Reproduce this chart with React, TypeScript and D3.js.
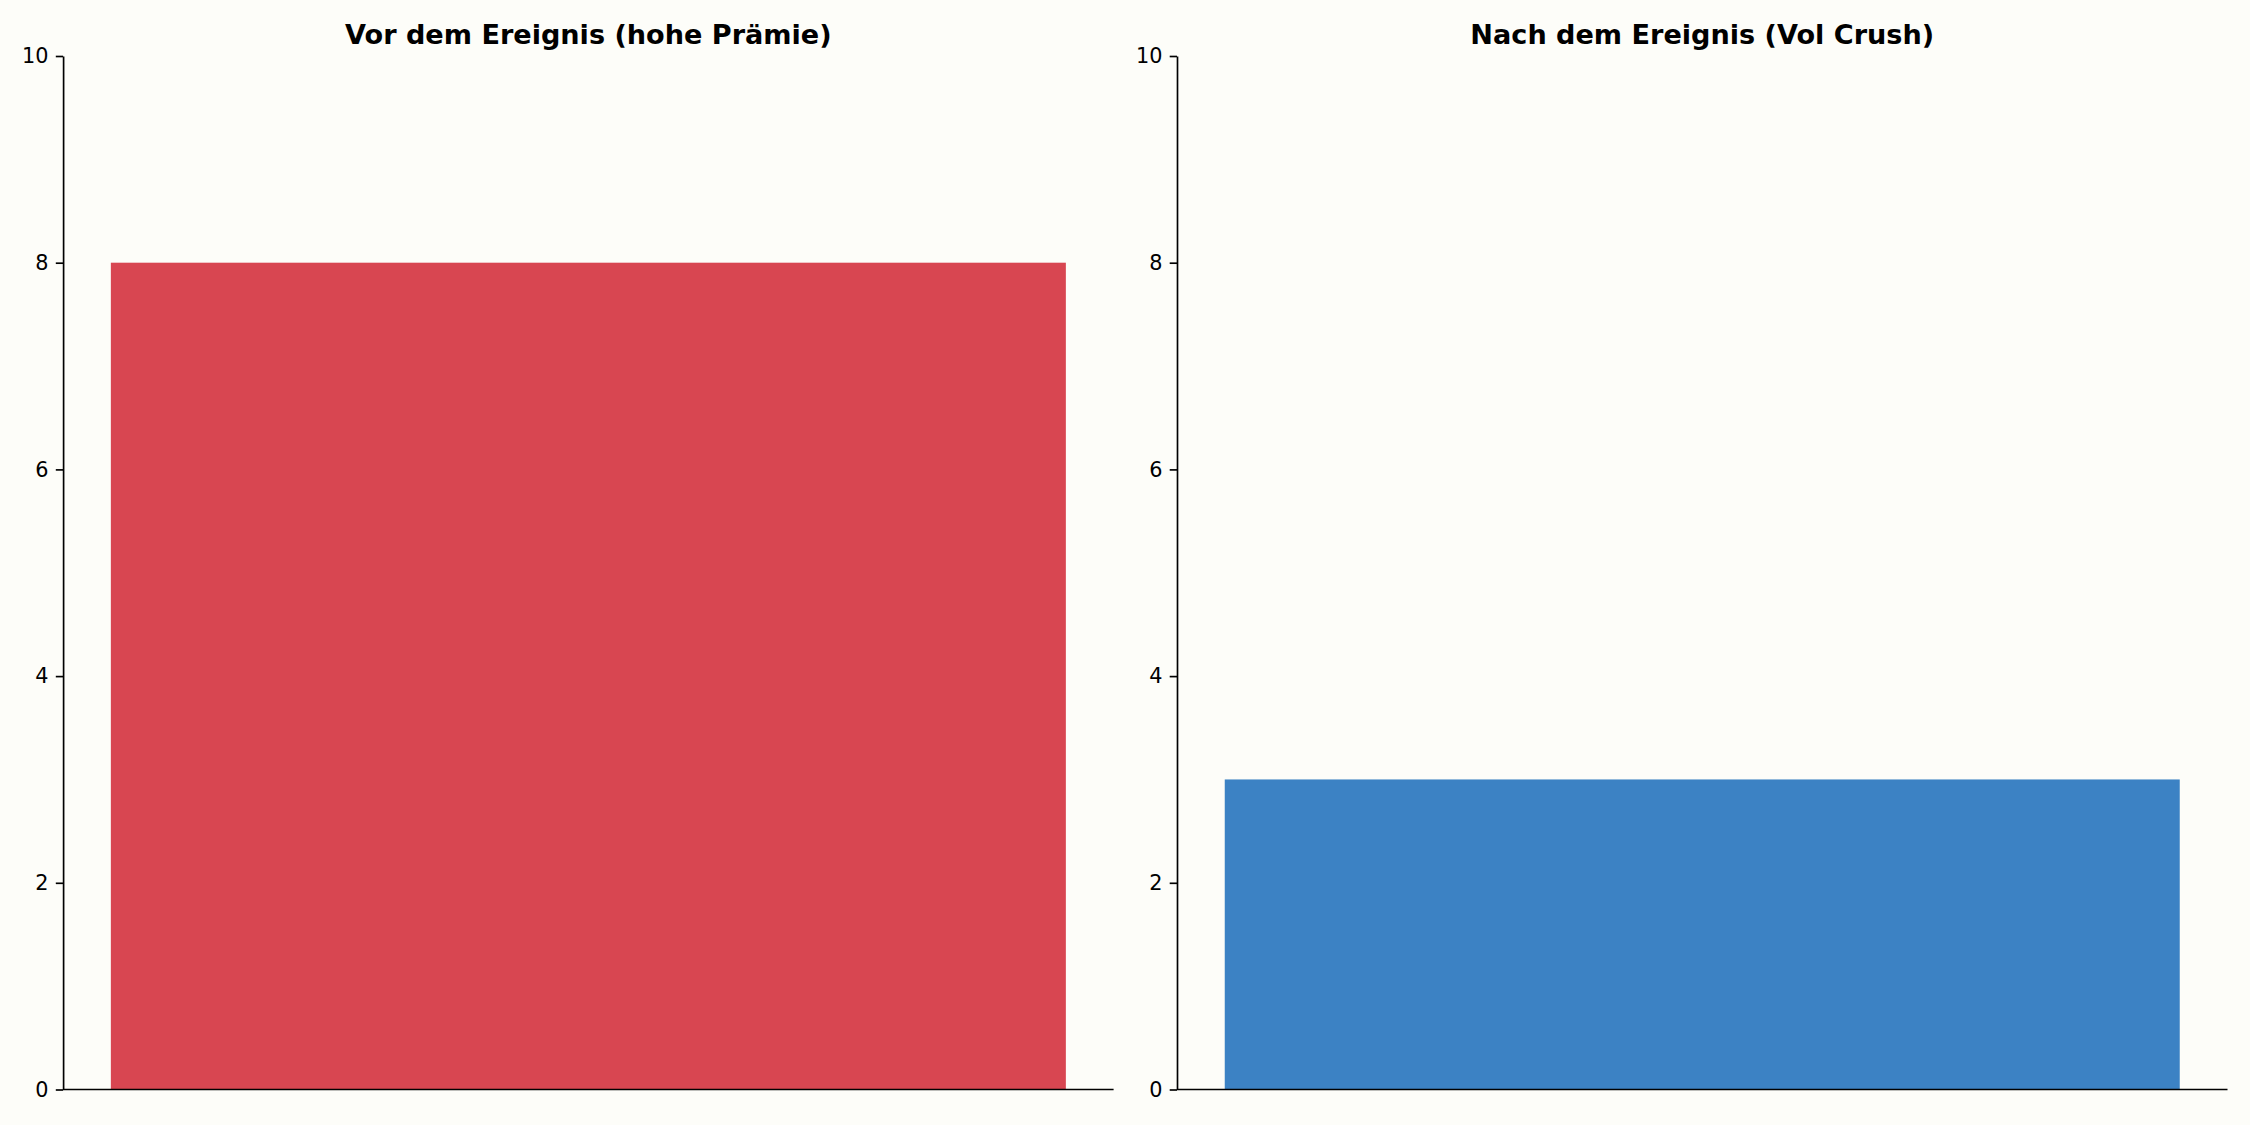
import React, { useEffect, useRef } from "react";
import * as d3 from "d3";

const panelTitles = ["Vor dem Ereignis (hohe Prämie)", "Nach dem Ereignis (Vol Crush)"];
const panelValues = [8, 3];
const panelColors = ["#d84651", "#3c82c4"];
const yTicks = [0, 2, 4, 6, 8, 10];

const W = 2250;
const H = 1125;
const BG = "#fdfdf9";

export default function App() {
  const ref = useRef<SVGSVGElement | null>(null);

  useEffect(() => {
    document.body.style.margin = "0";
    const svg = d3.select(ref.current);
    svg.selectAll("*").remove();
    svg.append("rect").attr("width", W).attr("height", H).attr("fill", BG);

    const panels = [
      { left: 63.1, right: 1113.6 },
      { left: 1177, right: 2227.5 },
    ];
    const top = 56;
    const bottom = 1089.5;

    panels.forEach((p, i) => {
      const g = svg.append("g");
      const x = d3.scaleLinear().domain([-0.44, 0.44]).range([p.left, p.right]);
      const y = d3.scaleLinear().domain([0, 10]).range([bottom, top]);

      g.append("rect")
        .attr("x", x(-0.4))
        .attr("y", y(panelValues[i]))
        .attr("width", x(0.4) - x(-0.4))
        .attr("height", y(0) - y(panelValues[i]))
        .attr("fill", panelColors[i]);

      const axis = d3
        .axisLeft(y)
        .tickValues(yTicks)
        .tickFormat(d3.format("d"))
        .tickSize(7.3)
        .tickPadding(7.3)
        .tickSizeOuter(0);
      const ax = g.append("g").attr("transform", `translate(${p.left},0)`).call(axis);
      ax.select(".domain").attr("stroke", "#000").attr("stroke-width", 1.67);
      ax.selectAll(".tick line").attr("stroke", "#000").attr("stroke-width", 1.67);
      ax.selectAll(".tick text")
        .attr("fill", "#000")
        .style("font-family", "DejaVu Sans")
        .style("font-size", "20.8px");

      g.append("line")
        .attr("x1", p.left)
        .attr("x2", p.right)
        .attr("y1", bottom)
        .attr("y2", bottom)
        .attr("stroke", "#000")
        .attr("stroke-width", 1.67);

      g.append("text")
        .attr("x", (p.left + p.right) / 2)
        .attr("y", 43.5)
        .attr("text-anchor", "middle")
        .style("font-family", "DejaVu Sans")
        .style("font-weight", "bold")
        .style("font-size", "27.1px")
        .attr("fill", "#000")
        .text(panelTitles[i]);
    });
  }, []);

  return (
    <svg
      ref={ref}
      width={W}
      height={H}
      style={{ position: "absolute", left: 0, top: 0, display: "block" }}
    />
  );
}
